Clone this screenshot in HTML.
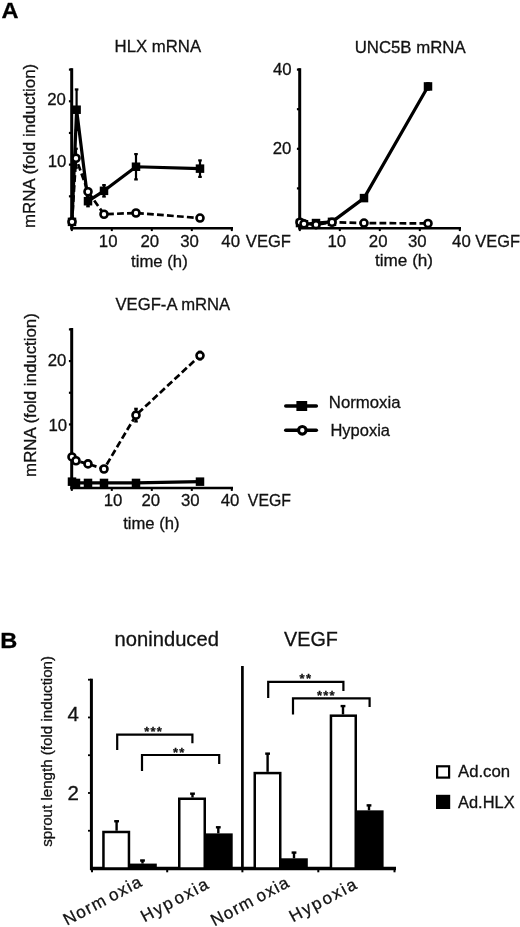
<!DOCTYPE html><html><head><meta charset="utf-8"><title>Figure</title><style>html,body{margin:0;padding:0;background:#fff;overflow:hidden}svg{display:block;font-family:"Liberation Sans",Arial,sans-serif}text{stroke:#111;stroke-width:.3px;paint-order:stroke}</style></head><body><svg width="520" height="927" viewBox="0 0 520 927">
<rect width="520" height="927" fill="#fff"/>
<text transform="translate(1.51,17.50) scale(1.0343,1)" font-size="22.8" font-weight="bold" fill="#000">A</text>
<text transform="translate(0.37,648.20) scale(1.0354,1)" font-size="22.8" font-weight="bold" fill="#000">B</text>
<line x1="71.70" y1="68.20" x2="71.70" y2="229.50" stroke="#000" stroke-width="3"/>
<line x1="70.50" y1="228.20" x2="233.00" y2="228.20" stroke="#000" stroke-width="2.6"/>
<line x1="71.80" y1="228.20" x2="71.80" y2="231.10" stroke="#000" stroke-width="2.0"/>
<line x1="111.80" y1="228.20" x2="111.80" y2="231.10" stroke="#000" stroke-width="2.0"/>
<line x1="151.80" y1="228.20" x2="151.80" y2="231.10" stroke="#000" stroke-width="2.0"/>
<line x1="191.80" y1="228.20" x2="191.80" y2="231.10" stroke="#000" stroke-width="2.0"/>
<line x1="231.80" y1="228.20" x2="231.80" y2="231.10" stroke="#000" stroke-width="2.0"/>
<line x1="68.90" y1="196.32" x2="72.00" y2="196.32" stroke="#000" stroke-width="2.2"/>
<line x1="68.90" y1="164.64" x2="72.00" y2="164.64" stroke="#000" stroke-width="2.2"/>
<line x1="68.90" y1="132.96" x2="72.00" y2="132.96" stroke="#000" stroke-width="2.2"/>
<line x1="68.90" y1="101.28" x2="72.00" y2="101.28" stroke="#000" stroke-width="2.2"/>
<line x1="68.90" y1="69.60" x2="72.00" y2="69.60" stroke="#000" stroke-width="2.2"/>
<polyline points="72.00,221.86 76.00,158.25 88.00,191.70 104.00,214.26 136.00,212.99 200.00,218.06" fill="none" stroke="#000" stroke-width="2.7" stroke-linejoin="round" stroke-dasharray="6.8 3.2"/>
<polyline points="72.00,221.86 76.60,109.72 88.00,201.21 104.00,190.82 136.00,166.74 200.00,168.64" fill="none" stroke="#000" stroke-width="3.2" stroke-linejoin="round"/>
<line x1="76.60" y1="89.44" x2="76.60" y2="129.99" stroke="#000" stroke-width="2.2"/>
<line x1="74.80" y1="89.44" x2="78.40" y2="89.44" stroke="#000" stroke-width="2.2"/>
<line x1="74.80" y1="129.99" x2="78.40" y2="129.99" stroke="#000" stroke-width="2.2"/>
<line x1="88.00" y1="196.14" x2="88.00" y2="206.28" stroke="#000" stroke-width="2.2"/>
<line x1="86.20" y1="196.14" x2="89.80" y2="196.14" stroke="#000" stroke-width="2.2"/>
<line x1="86.20" y1="206.28" x2="89.80" y2="206.28" stroke="#000" stroke-width="2.2"/>
<line x1="104.00" y1="185.12" x2="104.00" y2="196.52" stroke="#000" stroke-width="2.2"/>
<line x1="102.20" y1="185.12" x2="105.80" y2="185.12" stroke="#000" stroke-width="2.2"/>
<line x1="102.20" y1="196.52" x2="105.80" y2="196.52" stroke="#000" stroke-width="2.2"/>
<line x1="136.00" y1="154.07" x2="136.00" y2="179.41" stroke="#000" stroke-width="2.2"/>
<line x1="134.20" y1="154.07" x2="137.80" y2="154.07" stroke="#000" stroke-width="2.2"/>
<line x1="134.20" y1="179.41" x2="137.80" y2="179.41" stroke="#000" stroke-width="2.2"/>
<line x1="200.00" y1="160.40" x2="200.00" y2="176.88" stroke="#000" stroke-width="2.2"/>
<line x1="198.20" y1="160.40" x2="201.80" y2="160.40" stroke="#000" stroke-width="2.2"/>
<line x1="198.20" y1="176.88" x2="201.80" y2="176.88" stroke="#000" stroke-width="2.2"/>
<line x1="76.00" y1="148.75" x2="76.00" y2="167.75" stroke="#000" stroke-width="2.2"/>
<line x1="74.20" y1="148.75" x2="77.80" y2="148.75" stroke="#000" stroke-width="2.2"/>
<line x1="74.20" y1="167.75" x2="77.80" y2="167.75" stroke="#000" stroke-width="2.2"/>
<rect x="67.75" y="217.61" width="8.5" height="8.5" fill="#000"/>
<rect x="72.35" y="105.47" width="8.5" height="8.5" fill="#000"/>
<rect x="83.75" y="196.96" width="8.5" height="8.5" fill="#000"/>
<rect x="99.75" y="186.57" width="8.5" height="8.5" fill="#000"/>
<rect x="131.75" y="162.49" width="8.5" height="8.5" fill="#000"/>
<rect x="195.75" y="164.39" width="8.5" height="8.5" fill="#000"/>
<circle cx="72.00" cy="221.86" r="3.5" fill="#fff" stroke="#000" stroke-width="2.6"/>
<circle cx="76.00" cy="158.25" r="3.5" fill="#fff" stroke="#000" stroke-width="2.6"/>
<circle cx="88.00" cy="191.70" r="3.5" fill="#fff" stroke="#000" stroke-width="2.6"/>
<circle cx="104.00" cy="214.26" r="3.5" fill="#fff" stroke="#000" stroke-width="2.6"/>
<circle cx="136.00" cy="212.99" r="3.5" fill="#fff" stroke="#000" stroke-width="2.6"/>
<circle cx="200.00" cy="218.06" r="3.5" fill="#fff" stroke="#000" stroke-width="2.6"/>
<text transform="translate(114.56,52.40) scale(0.9973,1)" font-size="16.8" fill="#111">HLX mRNA</text>
<text transform="translate(35.10,228.10) rotate(-90) scale(1.0372,1)" font-size="16.3" fill="#111">mRNA (fold induction)</text>
<text transform="translate(47.25,104.50)" font-size="16.8" fill="#111">20</text>
<text transform="translate(47.64,167.00)" font-size="16.8" fill="#111">10</text>
<text transform="translate(98.84,247.20)" font-size="16.8" fill="#111">10</text>
<text transform="translate(140.40,247.20)" font-size="16.8" fill="#111">20</text>
<text transform="translate(180.23,247.20)" font-size="16.8" fill="#111">30</text>
<text transform="translate(221.30,246.80)" font-size="16.8" fill="#111">40</text>
<text transform="translate(245.82,246.80) scale(0.9880,1)" font-size="16.8" fill="#111">VEGF</text>
<text transform="translate(131.05,266.50) scale(0.9963,1)" font-size="16.8" fill="#111">time (h)</text>
<line x1="299.70" y1="68.20" x2="299.70" y2="229.50" stroke="#000" stroke-width="3"/>
<line x1="298.50" y1="228.20" x2="461.00" y2="228.20" stroke="#000" stroke-width="2.6"/>
<line x1="299.80" y1="228.20" x2="299.80" y2="231.10" stroke="#000" stroke-width="2.0"/>
<line x1="339.80" y1="228.20" x2="339.80" y2="231.10" stroke="#000" stroke-width="2.0"/>
<line x1="379.80" y1="228.20" x2="379.80" y2="231.10" stroke="#000" stroke-width="2.0"/>
<line x1="419.80" y1="228.20" x2="419.80" y2="231.10" stroke="#000" stroke-width="2.0"/>
<line x1="459.80" y1="228.20" x2="459.80" y2="231.10" stroke="#000" stroke-width="2.0"/>
<line x1="296.90" y1="188.40" x2="300.00" y2="188.40" stroke="#000" stroke-width="2.2"/>
<line x1="296.90" y1="148.80" x2="300.00" y2="148.80" stroke="#000" stroke-width="2.2"/>
<line x1="296.90" y1="109.20" x2="300.00" y2="109.20" stroke="#000" stroke-width="2.2"/>
<line x1="296.90" y1="69.60" x2="300.00" y2="69.60" stroke="#000" stroke-width="2.2"/>
<polyline points="300.00,222.26 304.00,223.84 316.00,224.64 332.00,222.26 364.00,223.05 428.00,223.45" fill="none" stroke="#000" stroke-width="2.7" stroke-linejoin="round" stroke-dasharray="6.8 3.2"/>
<polyline points="300.00,223.05 304.00,224.24 316.00,223.05 332.00,221.86 364.00,198.10 428.00,86.43" fill="none" stroke="#000" stroke-width="3.2" stroke-linejoin="round"/>
<line x1="428.00" y1="83.26" x2="428.00" y2="89.60" stroke="#000" stroke-width="2.2"/>
<line x1="426.20" y1="83.26" x2="429.80" y2="83.26" stroke="#000" stroke-width="2.2"/>
<line x1="426.20" y1="89.60" x2="429.80" y2="89.60" stroke="#000" stroke-width="2.2"/>
<rect x="295.75" y="218.80" width="8.5" height="8.5" fill="#000"/>
<rect x="299.75" y="219.99" width="8.5" height="8.5" fill="#000"/>
<rect x="311.75" y="218.80" width="8.5" height="8.5" fill="#000"/>
<rect x="327.75" y="217.61" width="8.5" height="8.5" fill="#000"/>
<rect x="359.75" y="193.85" width="8.5" height="8.5" fill="#000"/>
<rect x="423.75" y="82.18" width="8.5" height="8.5" fill="#000"/>
<circle cx="300.00" cy="222.26" r="3.5" fill="#fff" stroke="#000" stroke-width="2.6"/>
<circle cx="304.00" cy="223.84" r="3.5" fill="#fff" stroke="#000" stroke-width="2.6"/>
<circle cx="316.00" cy="224.64" r="3.5" fill="#fff" stroke="#000" stroke-width="2.6"/>
<circle cx="332.00" cy="222.26" r="3.5" fill="#fff" stroke="#000" stroke-width="2.6"/>
<circle cx="364.00" cy="223.05" r="3.5" fill="#fff" stroke="#000" stroke-width="2.6"/>
<circle cx="428.00" cy="223.45" r="3.5" fill="#fff" stroke="#000" stroke-width="2.6"/>
<text transform="translate(354.64,53.00)" font-size="16.8" fill="#111">UNC5B mRNA</text>
<text transform="translate(272.90,75.20)" font-size="16.8" fill="#111">40</text>
<text transform="translate(272.65,154.40)" font-size="16.8" fill="#111">20</text>
<text transform="translate(327.44,246.80)" font-size="16.8" fill="#111">10</text>
<text transform="translate(368.80,246.80)" font-size="16.8" fill="#111">20</text>
<text transform="translate(407.93,246.80)" font-size="16.8" fill="#111">30</text>
<text transform="translate(452.10,246.80)" font-size="16.8" fill="#111">40</text>
<text transform="translate(475.32,246.80) scale(0.9769,1)" font-size="16.8" fill="#111">VEGF</text>
<text transform="translate(375.04,265.70) scale(1.0196,1)" font-size="16.8" fill="#111">time (h)</text>
<line x1="71.70" y1="328.00" x2="71.70" y2="489.30" stroke="#000" stroke-width="3"/>
<line x1="70.50" y1="488.00" x2="233.00" y2="488.00" stroke="#000" stroke-width="2.6"/>
<line x1="71.80" y1="488.00" x2="71.80" y2="490.90" stroke="#000" stroke-width="2.0"/>
<line x1="111.80" y1="488.00" x2="111.80" y2="490.90" stroke="#000" stroke-width="2.0"/>
<line x1="151.80" y1="488.00" x2="151.80" y2="490.90" stroke="#000" stroke-width="2.0"/>
<line x1="191.80" y1="488.00" x2="191.80" y2="490.90" stroke="#000" stroke-width="2.0"/>
<line x1="231.80" y1="488.00" x2="231.80" y2="490.90" stroke="#000" stroke-width="2.0"/>
<line x1="68.90" y1="456.12" x2="72.00" y2="456.12" stroke="#000" stroke-width="2.2"/>
<line x1="68.90" y1="424.44" x2="72.00" y2="424.44" stroke="#000" stroke-width="2.2"/>
<line x1="68.90" y1="392.76" x2="72.00" y2="392.76" stroke="#000" stroke-width="2.2"/>
<line x1="68.90" y1="361.08" x2="72.00" y2="361.08" stroke="#000" stroke-width="2.2"/>
<line x1="68.90" y1="329.40" x2="72.00" y2="329.40" stroke="#000" stroke-width="2.2"/>
<polyline points="72.00,456.95 76.00,460.76 88.00,463.92 104.00,468.99 136.00,415.14 200.00,355.58" fill="none" stroke="#000" stroke-width="2.7" stroke-linejoin="round" stroke-dasharray="6.8 3.2"/>
<polyline points="72.00,481.66 76.00,482.93 88.00,482.93 104.00,482.93 136.00,482.93 200.00,481.66" fill="none" stroke="#000" stroke-width="3.2" stroke-linejoin="round"/>
<line x1="136.00" y1="408.80" x2="136.00" y2="421.47" stroke="#000" stroke-width="2.2"/>
<line x1="134.20" y1="408.80" x2="137.80" y2="408.80" stroke="#000" stroke-width="2.2"/>
<line x1="134.20" y1="421.47" x2="137.80" y2="421.47" stroke="#000" stroke-width="2.2"/>
<line x1="200.00" y1="351.78" x2="200.00" y2="359.38" stroke="#000" stroke-width="2.2"/>
<line x1="198.20" y1="351.78" x2="201.80" y2="351.78" stroke="#000" stroke-width="2.2"/>
<line x1="198.20" y1="359.38" x2="201.80" y2="359.38" stroke="#000" stroke-width="2.2"/>
<rect x="67.75" y="477.41" width="8.5" height="8.5" fill="#000"/>
<rect x="71.75" y="478.68" width="8.5" height="8.5" fill="#000"/>
<rect x="83.75" y="478.68" width="8.5" height="8.5" fill="#000"/>
<rect x="99.75" y="478.68" width="8.5" height="8.5" fill="#000"/>
<rect x="131.75" y="478.68" width="8.5" height="8.5" fill="#000"/>
<rect x="195.75" y="477.41" width="8.5" height="8.5" fill="#000"/>
<circle cx="72.00" cy="456.95" r="3.5" fill="#fff" stroke="#000" stroke-width="2.6"/>
<circle cx="76.00" cy="460.76" r="3.5" fill="#fff" stroke="#000" stroke-width="2.6"/>
<circle cx="88.00" cy="463.92" r="3.5" fill="#fff" stroke="#000" stroke-width="2.6"/>
<circle cx="104.00" cy="468.99" r="3.5" fill="#fff" stroke="#000" stroke-width="2.6"/>
<circle cx="136.00" cy="415.14" r="3.5" fill="#fff" stroke="#000" stroke-width="2.6"/>
<circle cx="200.00" cy="355.58" r="3.5" fill="#fff" stroke="#000" stroke-width="2.6"/>
<text transform="translate(115.52,310.30) scale(0.9916,1)" font-size="16.8" fill="#111">VEGF-A mRNA</text>
<text transform="translate(36.40,476.89) rotate(-90) scale(1.0334,1)" font-size="16.3" fill="#111">mRNA (fold induction)</text>
<text transform="translate(47.75,366.30)" font-size="16.8" fill="#111">20</text>
<text transform="translate(48.54,430.50)" font-size="16.8" fill="#111">10</text>
<text transform="translate(103.74,505.80)" font-size="16.8" fill="#111">10</text>
<text transform="translate(141.45,505.80)" font-size="16.8" fill="#111">20</text>
<text transform="translate(181.03,505.80)" font-size="16.8" fill="#111">30</text>
<text transform="translate(220.75,505.80)" font-size="16.8" fill="#111">40</text>
<text transform="translate(247.82,505.80) scale(0.9435,1)" font-size="16.8" fill="#111">VEGF</text>
<text transform="translate(123.15,529.00) scale(0.9909,1)" font-size="16.8" fill="#111">time (h)</text>
<line x1="285.80" y1="406.00" x2="316.30" y2="406.00" stroke="#000" stroke-width="3.6" stroke-linecap="round"/>
<rect x="296.4" y="401" width="10.8" height="10" fill="#000"/>
<line x1="285.80" y1="430.30" x2="316.30" y2="430.30" stroke="#000" stroke-width="3.6" stroke-linecap="round"/>
<circle cx="302.30" cy="430.30" r="3.8" fill="#fff" stroke="#000" stroke-width="3.2"/>
<text transform="translate(328.86,407.70) scale(0.9977,1)" font-size="16.8" fill="#111">Normoxia</text>
<text transform="translate(330.48,436.00) scale(0.9814,1)" font-size="16.8" fill="#111">Hypoxia</text>
<line x1="91.40" y1="678.70" x2="91.40" y2="870.00" stroke="#000" stroke-width="3"/>
<line x1="88.00" y1="830.74" x2="91.40" y2="830.74" stroke="#000" stroke-width="1.8"/>
<line x1="88.00" y1="792.98" x2="91.40" y2="792.98" stroke="#000" stroke-width="1.8"/>
<line x1="88.00" y1="755.22" x2="91.40" y2="755.22" stroke="#000" stroke-width="1.8"/>
<line x1="88.00" y1="717.46" x2="91.40" y2="717.46" stroke="#000" stroke-width="1.8"/>
<line x1="88.00" y1="679.70" x2="91.40" y2="679.70" stroke="#000" stroke-width="1.8"/>
<line x1="90.00" y1="868.50" x2="396.00" y2="868.50" stroke="#000" stroke-width="3.3"/>
<line x1="92.00" y1="868.50" x2="92.00" y2="872.30" stroke="#000" stroke-width="2.0"/>
<line x1="167.20" y1="868.50" x2="167.20" y2="872.30" stroke="#000" stroke-width="2.0"/>
<line x1="242.40" y1="868.50" x2="242.40" y2="872.30" stroke="#000" stroke-width="2.0"/>
<line x1="318.30" y1="868.50" x2="318.30" y2="872.30" stroke="#000" stroke-width="2.0"/>
<line x1="394.50" y1="868.50" x2="394.50" y2="872.30" stroke="#000" stroke-width="2.0"/>
<line x1="242.40" y1="666.00" x2="242.40" y2="868.50" stroke="#000" stroke-width="2.7"/>
<text transform="translate(67.53,721.20) scale(1.0600,1)" font-size="19.3" fill="#111">4</text>
<text transform="translate(67.42,800.30) scale(1.0600,1)" font-size="19.3" fill="#111">2</text>
<text transform="translate(51.50,846.85) rotate(-90) scale(0.9964,1)" font-size="15.2" fill="#111">sprout length (fold induction)</text>
<text transform="translate(114.59,646.30) scale(1.0089,1)" font-size="20" fill="#111">noninduced</text>
<text transform="translate(284.10,646.30) scale(0.9888,1)" font-size="20" fill="#111">VEGF</text>
<line x1="116.60" y1="820.54" x2="116.60" y2="830.74" stroke="#000" stroke-width="2.4"/>
<line x1="114.20" y1="821.24" x2="119.00" y2="821.24" stroke="#000" stroke-width="2.4"/>
<rect x="103.45" y="831.99" width="25.50" height="36.51" fill="#fff" stroke="#000" stroke-width="2.5"/>
<line x1="142.50" y1="859.82" x2="142.50" y2="863.59" stroke="#000" stroke-width="2.4"/>
<line x1="140.10" y1="860.52" x2="144.90" y2="860.52" stroke="#000" stroke-width="2.4"/>
<rect x="130.25" y="864.84" width="25.30" height="3.66" fill="#000" stroke="#000" stroke-width="2.5"/>
<line x1="192.50" y1="792.98" x2="192.50" y2="797.51" stroke="#000" stroke-width="2.4"/>
<line x1="190.10" y1="793.68" x2="194.90" y2="793.68" stroke="#000" stroke-width="2.4"/>
<rect x="179.25" y="798.76" width="25.50" height="69.74" fill="#fff" stroke="#000" stroke-width="2.5"/>
<line x1="218.30" y1="826.59" x2="218.30" y2="833.38" stroke="#000" stroke-width="2.4"/>
<line x1="215.90" y1="827.29" x2="220.70" y2="827.29" stroke="#000" stroke-width="2.4"/>
<rect x="206.25" y="834.63" width="25.20" height="33.87" fill="#000" stroke="#000" stroke-width="2.5"/>
<line x1="267.60" y1="752.95" x2="267.60" y2="771.83" stroke="#000" stroke-width="2.4"/>
<line x1="265.20" y1="753.65" x2="270.00" y2="753.65" stroke="#000" stroke-width="2.4"/>
<rect x="254.75" y="773.08" width="25.50" height="95.42" fill="#fff" stroke="#000" stroke-width="2.5"/>
<line x1="294.00" y1="851.89" x2="294.00" y2="858.30" stroke="#000" stroke-width="2.4"/>
<line x1="291.60" y1="852.59" x2="296.40" y2="852.59" stroke="#000" stroke-width="2.4"/>
<rect x="281.55" y="859.55" width="25.00" height="8.95" fill="#000" stroke="#000" stroke-width="2.5"/>
<line x1="343.00" y1="705.38" x2="343.00" y2="714.44" stroke="#000" stroke-width="2.4"/>
<line x1="340.60" y1="706.08" x2="345.40" y2="706.08" stroke="#000" stroke-width="2.4"/>
<rect x="330.95" y="715.69" width="24.80" height="152.81" fill="#fff" stroke="#000" stroke-width="2.5"/>
<line x1="369.00" y1="804.69" x2="369.00" y2="810.35" stroke="#000" stroke-width="2.4"/>
<line x1="366.60" y1="805.39" x2="371.40" y2="805.39" stroke="#000" stroke-width="2.4"/>
<rect x="357.25" y="811.60" width="25.10" height="56.90" fill="#000" stroke="#000" stroke-width="2.5"/>
<polyline points="117.2,750 117.2,734.6 192.4,734.6 192.4,743.3" fill="none" stroke="#000" stroke-width="2.2"/>
<text x="144.20" y="736.00" font-size="13" font-weight="bold" letter-spacing="1.25" fill="#111">***</text>
<polyline points="142,771 142,755 219.2,755 219.2,764" fill="none" stroke="#000" stroke-width="2.2"/>
<text x="173.00" y="757.00" font-size="13" font-weight="bold" letter-spacing="1.25" fill="#111">**</text>
<polyline points="268.2,698 268.2,681.8 343.4,681.8 343.4,691" fill="none" stroke="#000" stroke-width="2.2"/>
<text x="299.60" y="682.50" font-size="13" font-weight="bold" letter-spacing="1.25" fill="#111">**</text>
<polyline points="293,714.4 293,698.4 369.6,698.4 369.6,707" fill="none" stroke="#000" stroke-width="2.2"/>
<text x="317.00" y="699.50" font-size="13" font-weight="bold" letter-spacing="1.25" fill="#111">***</text>
<text transform="translate(67.00,925.80) rotate(-28)" font-size="17" fill="#111" letter-spacing="1.3">Norm<tspan dx="4.0">oxia</tspan></text>
<text transform="translate(144.50,922.50) rotate(-28)" font-size="17" fill="#111" letter-spacing="1.8">Hyp<tspan dx="1.5">oxia</tspan></text>
<text transform="translate(214.40,926.50) rotate(-28)" font-size="17" fill="#111" letter-spacing="1.3">Norm<tspan dx="4.0">oxia</tspan></text>
<text transform="translate(293.00,922.50) rotate(-28)" font-size="17" fill="#111" letter-spacing="1.9">Hyp<tspan dx="0.5">oxia</tspan></text>
<rect x="437.1" y="766.3" width="12" height="11.3" fill="#fff" stroke="#000" stroke-width="2.2"/>
<rect x="436" y="794.8" width="14.2" height="14.2" fill="#000"/>
<text transform="translate(458.00,777.20) scale(1.0090,1)" font-size="16.6" fill="#111">Ad.con</text>
<text transform="translate(458.00,807.50) scale(0.9902,1)" font-size="16.6" fill="#111">Ad.HLX</text>
</svg></body></html>
